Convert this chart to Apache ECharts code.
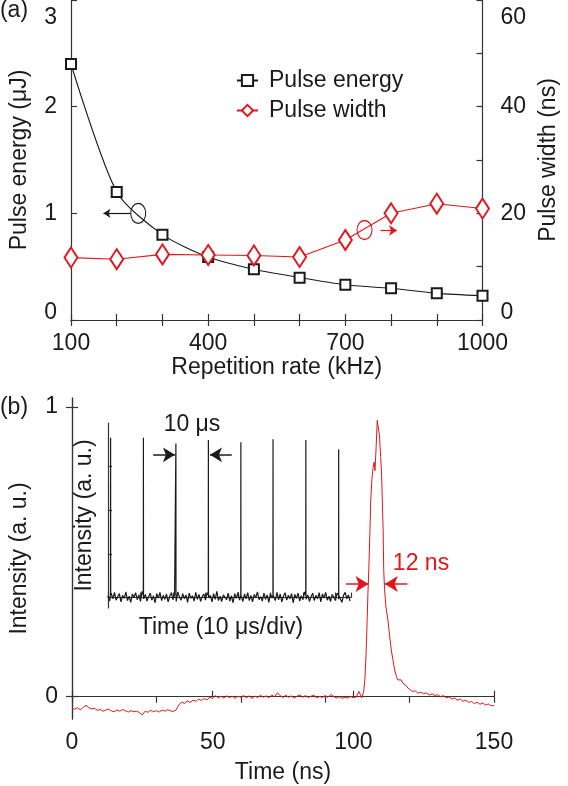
<!DOCTYPE html>
<html>
<head>
<meta charset="utf-8">
<script src="https://cdn.jsdelivr.net/npm/echarts@6/dist/echarts.min.js"></script>
<style>
html,body{margin:0;padding:0;background:#fff;}
#c{width:568px;height:786px;}
</style>
</head>
<body>
<div id="c"></div>
<script>
// ---------- (a) data ----------
const repRate = [100, 200, 300, 400, 500, 600, 700, 800, 900, 1000];
const pulseEnergy = [2.40, 1.20, 0.80, 0.59, 0.475, 0.397, 0.33, 0.297, 0.25, 0.228];
const pulseWidth = [11.7, 11.4, 12.3, 12.2, 12.1, 11.8, 15.0, 20.0, 21.8, 20.9];
const repTickLabels = [100, 400, 700, 1000];
const widthTickLabels = [0, 20, 40, 60];
const energyTickLabels = [0, 1, 2, 3];

// ---------- (b) data: pulse trace (time ns, intensity a.u.) ----------
const pulseTrace = [
[0,-0.040],[1,-0.043],[2,-0.038],[3,-0.046],[4,-0.036],[5,-0.030],[6,-0.038],[7,-0.042],[8,-0.040],[9,-0.047],
[10,-0.044],[11,-0.050],[12,-0.046],[13,-0.043],[14,-0.049],[15,-0.052],[16,-0.046],[17,-0.050],[18,-0.044],[19,-0.049],
[20,-0.053],[21,-0.048],[22,-0.052],[23,-0.050],[24,-0.055],[25,-0.063],[26,-0.050],[27,-0.054],[28,-0.047],[29,-0.052],
[30,-0.048],[31,-0.053],[32,-0.046],[33,-0.050],[34,-0.045],[35,-0.049],[36,-0.051],[37,-0.046],[38,-0.028],[39,-0.018],
[40,-0.024],[41,-0.014],[42,-0.020],[43,-0.012],[44,-0.016],[45,-0.008],[46,-0.013],[47,-0.006],[48,-0.011],[49,-0.002],
[50,-0.006],[51,0.004],[52,-0.004],[53,0.002],[54,-0.005],[55,0.003],[56,-0.003],[57,0.001],[58,-0.006],[59,0.002],
[60,-0.002],[61,0.004],[62,-0.004],[63,0.003],[64,-0.006],[65,0.002],[66,-0.003],[67,0.005],[68,-0.002],[69,0.003],
[70,-0.004],[71,0.006],[72,-0.001],[73,0.013],[74,0.004],[75,-0.003],[76,0.005],[77,-0.002],[78,0.003],[79,-0.005],
[80,0.002],[81,0.006],[82,-0.002],[83,0.004],[84,-0.003],[85,0.002],[86,0.005],[87,-0.004],[88,0.001],[89,-0.003],
[90,0.004],[91,-0.002],[92,0.008],[93,0.001],[94,-0.005],[95,0.000],[96,-0.006],[97,-0.002],[98,-0.005],[99,0.001],
[100,-0.004],[101,-0.001],[102,0.018],[103,-0.004],[103.7,0.02],[104.1,0.06],[104.5,0.14],[104.9,0.26],[105.2,0.36],
[105.5,0.44],[105.9,0.57],[106.2,0.68],[106.6,0.75],[107.0,0.79],[107.4,0.81],[107.7,0.78],[108.1,0.86],[108.5,0.954],
[108.9,0.958],[109.3,0.90],[109.7,0.83],[110.0,0.78],[110.3,0.68],[110.6,0.575],[110.8,0.44],[111.1,0.37],[111.6,0.31],
[112.3,0.264],[112.9,0.21],[113.5,0.161],[114.1,0.125],[114.7,0.092],[115.3,0.070],[115.8,0.058],[116.4,0.052],
[117.0,0.058],[117.6,0.047],[118.2,0.050],[118.8,0.038],[119.4,0.030],[120,0.024],[121,0.018],[122,0.020],[123,0.012],
[124,0.016],[125,0.010],[126,0.013],[127,0.006],[128,0.010],[129,0.004],[130,0.007],[131,0.000],[132,0.004],[133,-0.004],
[134,-0.001],[135,-0.008],[136,-0.004],[137,-0.012],[138,-0.008],[139,-0.016],[140,-0.012],[141,-0.020],[142,-0.016],
[143,-0.024],[144,-0.019],[145,-0.026],[146,-0.022],[147,-0.029],[148,-0.025],[149,-0.031],[150,-0.030]
];
const traceTickLabels = [0, 1];

// ---------- inset: pulse train (time us, intensity a.u.) ----------
const insetNoiseStep = 0.5;
const insetNoise = [
0.04,-0.08,0.10,-0.03,0.12,-0.06,0.02,0.09,-0.10,0.05,-0.02,0.13,-0.07,0.03,-0.11,0.08,0.00,0.11,-0.05,0.06,
-0.09,0.14,-0.03,0.07,-0.08,0.02,0.10,-0.06,0.04,-0.12,0.09,-0.01,0.12,-0.07,0.05,-0.04,0.08,-0.10,0.03,0.11,
-0.05,0.07,-0.09,0.13,0.01,-0.06,0.09,-0.03,0.06,-0.11,0.10,-0.02,0.04,-0.08,0.12,-0.04,0.07,-0.09,0.02,0.08,
-0.06,0.11,-0.01,0.05,-0.10,0.09,-0.04,0.14,-0.07,0.03,-0.09,0.06,0.01,-0.05,0.10,-0.08,0.04,-0.12,0.09,-0.02,
0.12,-0.06,0.03,-0.09,0.08,-0.03,0.11,-0.07,0.05,-0.10,0.07,0.00,0.13,-0.05,0.02,-0.08,0.10,-0.04,0.06,-0.11,
0.09,-0.01,0.04,-0.07,0.12,-0.05,0.08,-0.10,0.03,0.11,-0.06,0.05,-0.03,0.09,-0.12,0.07,-0.02,0.10,-0.08,0.04,
-0.05,0.13,-0.04,0.06,-0.09,0.02,0.10,-0.07,0.05,-0.03,0.11,-0.10,0.08,-0.01,0.12,-0.06,0.03,-0.09,0.07,0.01,
-0.07,0.10,-0.04,0.08,-0.11,0.05,0.12,-0.03,0.06,-0.08
];
const insetPulseTimes = [0.8, 10.9, 20.9, 30.9, 40.9, 50.8, 60.9, 71.0];
const insetPulsePeaks = [3.66, 3.66, 3.53, 3.61, 3.56, 3.63, 3.61, 3.40];
const insetPulseBase = 0.05;

// ---------- build ----------
const RED = '#e3161d';
const BLK = '#1a1a1a';
const FONT = '"Liberation Sans", Arial, sans-serif';
const FS = 23;

const energyData = repRate.map((x, i) => [x, pulseEnergy[i]]);
const widthData = repRate.map((x, i) => [x, pulseWidth[i]]);

const insetData = insetNoise.map((v, i) => [i * insetNoiseStep, v]);
insetPulseTimes.forEach((t, i) => {
  insetData.push([t - 0.03, insetPulseBase], [t, insetPulsePeaks[i]], [t + 0.03, insetPulseBase]);
});
insetData.sort((a, b) => a[0] - b[0]);

const axLine = { show: true, lineStyle: { color: '#333', width: 1.2 } };
const axTick = (len) => ({ show: true, inside: true, length: len, lineStyle: { color: '#333', width: 1.2 } });
const lbl = { color: BLK, fontSize: FS, fontFamily: FONT };
const nameStyle = { color: BLK, fontSize: FS, fontFamily: FONT };
const richEnds = {
  t: { fontSize: FS, fontFamily: FONT, color: BLK, padding: [36, 0, 0, 0] },
  b: { fontSize: FS, fontFamily: FONT, color: BLK, padding: [0, 0, 15, 0] }
};

const chart = echarts.init(document.getElementById('c'), null, { renderer: 'canvas' });

const option = {
  animation: false,
  backgroundColor: '#fff',
  textStyle: { fontFamily: FONT },
  grid: [
    { left: 60, top: 0, width: 433, height: 320 },
    { left: 60, top: 398, width: 434, height: 321 },
    { left: 108, top: 423, width: 243, height: 185 }
  ],
  legend: {
    data: ['Pulse energy', 'Pulse width'],
    orient: 'vertical',
    left: 231,
    top: 64,
    itemWidth: 21,
    itemHeight: 14,
    itemGap: 7,
    selectedMode: false,
    textStyle: { color: BLK, fontSize: FS, fontFamily: FONT, padding: [0, 0, 0, 6] }
  },
  xAxis: [
    { gridIndex: 0, type: 'value', position: 'bottom', min: 100, max: 1000, interval: 100,
      axisLine: axLine, axisTick: axTick(6), splitLine: { show: false },
      axisLabel: Object.assign({ margin: 12, formatter: v => repTickLabels.includes(v) ? String(v) : '' }, lbl),
      name: 'Repetition rate (kHz)', nameLocation: 'middle', nameGap: 34, nameTextStyle: nameStyle },
    { gridIndex: 0, type: 'value', position: 'top', min: 100, max: 1000, interval: 100,
      axisLine: axLine, axisTick: axTick(6), splitLine: { show: false }, axisLabel: { show: false } },
    { gridIndex: 1, type: 'value', position: 'bottom', min: 0, max: 150, interval: 50,
      axisLine: axLine, axisTick: axTick(6), splitLine: { show: false },
      axisLabel: Object.assign({ margin: 12 }, lbl),
      name: 'Time (ns)', nameLocation: 'middle', nameGap: 42, nameTextStyle: nameStyle },
    { gridIndex: 1, type: 'value', position: 'top', min: 0, max: 150, interval: 30,
      axisLine: axLine, axisTick: axTick(6), splitLine: { show: false }, axisLabel: { show: false } },
    { gridIndex: 2, type: 'value', position: 'bottom', min: 0, max: 74.8, interval: 10,
      axisLine: axLine, axisTick: axTick(5), splitLine: { show: false }, axisLabel: { show: false },
      name: 'Time (10 μs/div)', nameLocation: 'middle', nameGap: 8,
      nameTextStyle: Object.assign({ padding: [0, 17, 0, 0] }, nameStyle) }
  ],
  yAxis: [
    { gridIndex: 0, type: 'value', position: 'left', min: 0, max: 3, interval: 1,
      axisLine: axLine, axisTick: axTick(6), splitLine: { show: false },
      axisLabel: Object.assign({ margin: 14, rich: richEnds,
        formatter: v => !energyTickLabels.includes(v) ? '' : (v === 3 ? '{t|3}' : (v === 0 ? '{b|0}' : String(v))) }, lbl),
      name: 'Pulse energy (μJ)', nameLocation: 'middle', nameRotate: 90, nameGap: 40, nameTextStyle: nameStyle },
    { gridIndex: 0, type: 'value', position: 'right', min: 0, max: 60, interval: 10,
      axisLine: axLine, axisTick: axTick(6), splitLine: { show: false },
      axisLabel: Object.assign({ margin: 18, rich: richEnds,
        formatter: v => !widthTickLabels.includes(v) ? '' : (v === 60 ? '{t|60}' : (v === 0 ? '{b|0}' : String(v))) }, lbl),
      name: 'Pulse width (ns)', nameLocation: 'middle', nameRotate: 90, nameGap: 50, nameTextStyle: nameStyle },
    { gridIndex: 1, type: 'value', position: 'left', min: -0.077, max: 1.031,
      axisLine: axLine, axisTick: Object.assign(axTick(6), { customValues: traceTickLabels }), splitLine: { show: false },
      axisLabel: Object.assign({ margin: 14, customValues: traceTickLabels }, lbl),
      name: 'Intensity (a. u.)', nameLocation: 'middle', nameRotate: 90, nameGap: 41, nameTextStyle: nameStyle },
    { gridIndex: 1, type: 'value', position: 'right', min: -0.077, max: 1.031,
      axisLine: axLine, axisTick: Object.assign(axTick(6), { customValues: traceTickLabels }), splitLine: { show: false },
      axisLabel: { show: false } },
    { gridIndex: 2, type: 'value', position: 'left', min: -0.24, max: 4,
      axisLine: axLine, axisTick: Object.assign(axTick(4), { customValues: [0, 1, 2, 3] }), splitLine: { show: false },
      axisLabel: { show: false },
      name: 'Intensity (a. u.)', nameLocation: 'middle', nameRotate: 90, nameGap: 12, nameTextStyle: nameStyle }
  ],
  series: [
    { name: 'Pulse energy', type: 'line', xAxisIndex: 0, yAxisIndex: 0, data: energyData,
      smooth: 0.25,
      symbol: 'emptyRect', symbolSize: 10,
      lineStyle: { color: BLK, width: 1.1 }, itemStyle: { color: BLK, borderWidth: 1.1 },
      markPoint: { silent: true, animation: false, label: { show: false },
        data: [{ coord: [247, 1.0], symbol: 'circle', symbolSize: [15, 20],
          itemStyle: { color: 'rgba(0,0,0,0)', borderColor: BLK, borderWidth: 1.2 } }] },
      markLine: { silent: true, animation: false, symbol: ['none', 'arrow'], symbolSize: 7,
        label: { show: false }, lineStyle: { color: BLK, width: 1.2, type: 'solid' },
        data: [[{ coord: [231, 1.0] }, { coord: [171, 1.0] }]] } },
    { name: 'Pulse width', type: 'line', xAxisIndex: 0, yAxisIndex: 1, data: widthData,
      symbol: 'emptyDiamond', symbolSize: [13, 20],
      lineStyle: { color: RED, width: 1.1 }, itemStyle: { color: RED, borderWidth: 1.1 },
      markPoint: { silent: true, animation: false, label: { show: false },
        data: [{ coord: [742, 16.87], symbol: 'circle', symbolSize: [15, 19],
          itemStyle: { color: 'rgba(0,0,0,0)', borderColor: RED, borderWidth: 1.2 } }] },
      markLine: { silent: true, animation: false, symbol: ['none', 'arrow'], symbolSize: 8,
        label: { show: false }, lineStyle: { color: RED, width: 1.2, type: 'solid' },
        data: [[{ coord: [777, 16.8] }, { coord: [813, 16.8] }]] } },
    { name: 'trace', type: 'line', xAxisIndex: 2, yAxisIndex: 2, data: pulseTrace,
      showSymbol: false, symbol: 'none', lineStyle: { color: RED, width: 1 },
      markLine: { silent: true, animation: false, symbol: ['none', 'arrow'], symbolSize: [12, 13],
        label: { show: false }, lineStyle: { color: RED, width: 1.5, type: 'solid' },
        data: [[{ coord: [97.4, 0.389] }, { coord: [105.4, 0.389] }],
               [{ coord: [119.2, 0.389] }, { coord: [111.2, 0.389] }]] } },
    { name: 'inset', type: 'line', xAxisIndex: 4, yAxisIndex: 4, data: insetData,
      showSymbol: false, symbol: 'none', lineStyle: { color: BLK, width: 1.2 },
      markLine: { silent: true, animation: false, symbol: ['none', 'arrow'], symbolSize: [11, 12],
        label: { show: false }, lineStyle: { color: BLK, width: 1.5, type: 'solid' },
        data: [[{ coord: [13.9, 3.27] }, { coord: [20.6, 3.27] }],
               [{ coord: [38.1, 3.27] }, { coord: [31.4, 3.27] }]] } }
  ],
  graphic: [
    { type: 'text', x: 14, y: 11, style: { text: '(a)', fill: BLK, font: FS + 'px ' + FONT, textAlign: 'center', textVerticalAlign: 'middle' } },
    { type: 'text', x: 14, y: 408, style: { text: '(b)', fill: BLK, font: FS + 'px ' + FONT, textAlign: 'center', textVerticalAlign: 'middle' } },
    { type: 'text', x: 192, y: 425, style: { text: '10 μs', fill: BLK, font: FS + 'px ' + FONT, textAlign: 'center', textVerticalAlign: 'middle' } },
    { type: 'text', x: 421, y: 564, style: { text: '12 ns', fill: RED, font: FS + 'px ' + FONT, textAlign: 'center', textVerticalAlign: 'middle' } }
  ]
};
chart.setOption(option);
</script>
</body>
</html>
